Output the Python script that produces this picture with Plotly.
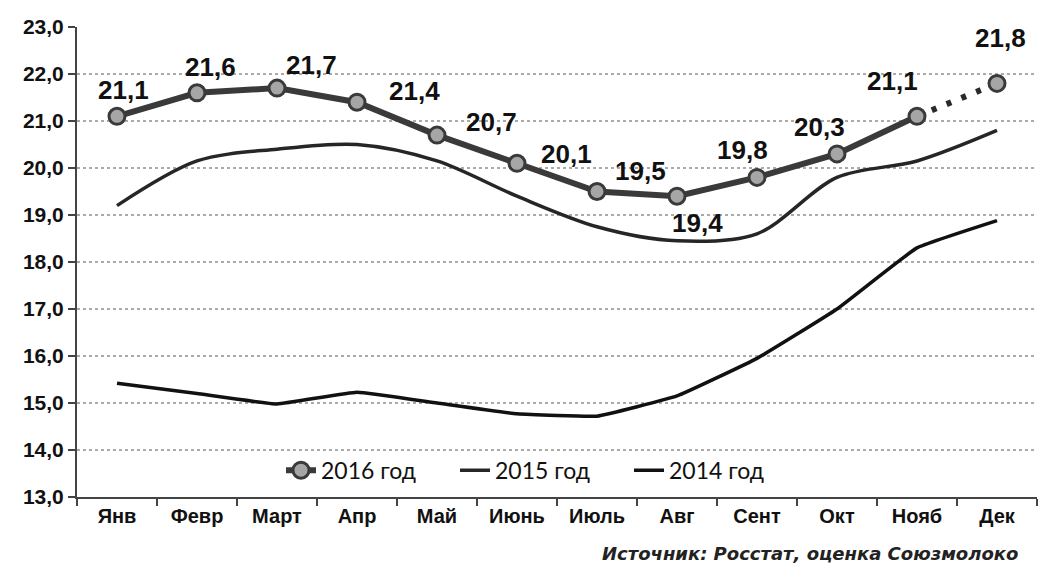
import plotly.graph_objects as go

months = ["Янв", "Февр", "Март", "Апр", "Май", "Июнь", "Июль", "Авг", "Сент", "Окт", "Нояб", "Дек"]
y2016 = [21.1, 21.6, 21.7, 21.4, 20.7, 20.1, 19.5, 19.4, 19.8, 20.3, 21.1, 21.8]
y2015 = [19.2, 20.15, 20.4, 20.5, 20.15, 19.4, 18.75, 18.45, 18.6, 19.8, 20.15, 20.8]
y2014 = [15.42, 15.2, 14.98, 15.23, 15.0, 14.77, 14.72, 15.15, 15.95, 17.0, 18.3, 18.88]

# label offsets (pixels) for the 2016 data labels
label_shift = [(6, 26), (13, 26), (34, 23), (57, 11), (54, 13), (49, 9), (43, 21),
               (20, -27), (-15, 27), (-18, 27), (-25, 35), (3, 45)]

LINE16 = "#3a3a3a"
MARK16 = dict(size=16, color="#a6a6a6", line=dict(color=LINE16, width=3))

fig = go.Figure()

# legend entry for 2016 (no data drawn)
fig.add_trace(go.Scatter(
    x=[months[0]], y=[None], mode="lines+markers", name="2016 год",
    line=dict(color=LINE16, width=6), marker=MARK16))

fig.add_trace(go.Scatter(
    x=months, y=y2015, mode="lines", name="2015 год",
    line=dict(color="#262626", width=3.5, shape="spline", smoothing=0.9)))

fig.add_trace(go.Scatter(
    x=months, y=y2014, mode="lines", name="2014 год",
    line=dict(color="#111111", width=3.5, shape="spline", smoothing=0.3)))

fig.add_trace(go.Scatter(
    x=months[10:], y=y2016[10:], mode="lines", showlegend=False,
    line=dict(color="#2a2a2a", width=6, dash="5px,11px")))

fig.add_trace(go.Scatter(
    x=months[:11], y=y2016[:11], mode="lines", showlegend=False,
    line=dict(color=LINE16, width=6)))

fig.add_trace(go.Scatter(
    x=months, y=y2016, mode="markers", showlegend=False, marker=MARK16))

for m, v, (dx, dy) in zip(months, y2016, label_shift):
    fig.add_annotation(x=m, y=v, text="<b>" + f"{v:.1f}".replace(".", ",") + "</b>", showarrow=False,
                       xshift=dx, yshift=dy,
                       font=dict(family="Liberation Sans", size=26, color="#111"))

fig.add_annotation(xref="paper", yref="paper", x=0.982, y=-0.12, xanchor="right", yanchor="middle",
                   text="<b><i>Источник: Росстат, оценка Союзмолоко</i></b>", showarrow=False,
                   font=dict(family="DejaVu Sans", size=18, color="#222"))

fig.update_layout(
    width=1040, height=565,
    margin=dict(l=77, r=3, t=27, b=68),
    paper_bgcolor="white", plot_bgcolor="white",
    separators=", ",
    showlegend=True,
    legend=dict(orientation="h", x=0.2125, y=0.057, xanchor="left", yanchor="middle",
                entrywidth=129, bgcolor="rgba(0,0,0,0)",
                font=dict(family="Lato", size=23, color="#111")),
    xaxis=dict(type="category", showgrid=False, showline=True, linecolor="#444", linewidth=2,
               ticks="outside", tickson="boundaries", ticklen=7, tickcolor="#444", tickwidth=1.5,
               tickfont=dict(family="Liberation Sans", size=20, color="#111"),
               range=[-0.5, 11.5]),
    yaxis=dict(range=[13, 23], dtick=1, tickformat=".1f", showline=True, linecolor="#444", linewidth=2,
               ticks="outside", ticklen=7, tickcolor="#444", tickwidth=1.5,
               showgrid=True, gridcolor="#aaaaaa", gridwidth=2, griddash="dot",
               zeroline=False,
               tickfont=dict(family="Liberation Sans", size=21, color="#111")),
)
fig.update_xaxes(tickprefix="<b>", ticksuffix="</b>")
fig.update_yaxes(tickprefix="<b>", ticksuffix="</b>")

fig.write_html("out.html", config={"displayModeBar": False},
               post_script="document.body.style.margin='0';")
